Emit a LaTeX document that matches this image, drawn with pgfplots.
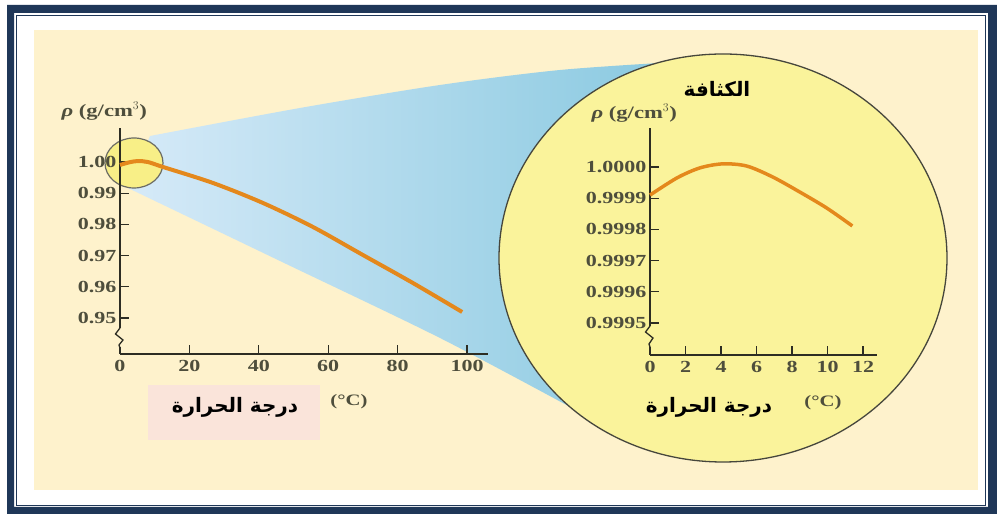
\documentclass[border=0pt]{standalone}
\usepackage{fontspec}
\usepackage{pgfplots}
\pgfplotsset{compat=1.18}
\TeXXeTstate=1
\newfontfamily\arabicfont[Script=Arabic]{DejaVu Sans}
\newfontfamily\tickfont[FakeStretch=1.3]{Liberation Serif}
\definecolor{navy}{RGB}{31,55,88}
\definecolor{cream}{RGB}{254,242,204}
\definecolor{pinkbox}{RGB}{250,228,218}
\definecolor{bluelight}{RGB}{214,234,248}
\definecolor{bluedark}{RGB}{130,198,222}
\definecolor{bigyellow}{RGB}{250,243,155}
\definecolor{smallyellow}{RGB}{248,239,135}
\definecolor{ringcol}{RGB}{70,70,60}
\definecolor{axiscol}{RGB}{45,45,35}
\definecolor{tickcol}{RGB}{78,78,60}
\definecolor{curvecol}{RGB}{228,136,28}
\begin{document}
\begin{tikzpicture}[x=1bp,y=1bp]
\useasboundingbox (0,0) rectangle (997,514);
\clip (0,0) rectangle (997,514);
% frame
\fill[white] (0,0) rectangle (997,514);
\fill[navy, even odd rule] (7,0) rectangle (997,509) (14,7) rectangle (988,501);
\draw[navy, line width=1.2bp] (16.5,8.5) rectangle (985.5,498.5);
\fill[cream] (34,24) rectangle (978,484);
% pink label box
\fill[pinkbox] (148,74) rectangle (320,129);
% blue cone
\shade[left color=bluelight, right color=bluedark]
  plot[smooth] coordinates {(150,378) (300,406) (440,429) (560,444) (676,452)}
  -- (723,256) -- (572,106)
  -- plot[smooth] coordinates {(572,106) (440,176) (280,253) (128,326)}
  -- cycle;
% magnifier ellipse
\draw[fill=bigyellow, draw=ringcol, line width=1.3bp] (723,256) ellipse [x radius=224, y radius=204];
% small circle
\draw[fill=smallyellow, draw=ringcol!80, line width=1.2bp] (134,351) ellipse [x radius=29, y radius=25];

\pgfplotsset{
  myax/.style={
    scale only axis, anchor=south west, clip=false,
    axis lines=left,
    axis line style={-, line width=1.3bp, draw=axiscol},
    tick align=inside, major tick length=9bp,
    tick style={line width=1.3bp, draw=axiscol},
    /pgf/number format/assume math mode=true,
    tick label style={font=\tickfont\bfseries\fontsize{17}{17}\selectfont, text=tickcol},
    xticklabel style={yshift=-3bp},
  }
}
% left (full range) axis
\begin{axis}[myax, at={(120bp,160bp)}, width=368bp, height=226bp,
  xmin=0, xmax=106.05, ymin=0.938462, ymax=1.010897,
  xtick={0,20,40,60,80,100}, xticklabels={0,20,40,60,80,100},
  ytick={0.95,0.96,0.97,0.98,0.99,1.00},
  yticklabels={0.95,0.96,0.97,0.98,0.99,1.00}]
\addplot[smooth, curvecol, line width=4bp] coordinates {
 (0,0.99904) (2.5,0.99985) (5.0,1.00030) (8.0,1.00000) (12.4,0.99840) (26.8,0.99327)
 (41.2,0.98686) (55.6,0.97917) (70.0,0.97019) (84.4,0.96122) (98.6,0.95192)};
\end{axis}
% right (zoomed) axis
\begin{axis}[myax, at={(650bp,159bp)}, width=227bp, height=227bp,
  xmin=0, xmax=12.789, ymin=0.9993974, ymax=1.000125,
  xtick={0,2,4,6,8,10,12}, xticklabels={0,2,4,6,8,10,12},
  ytick={0.9995,0.9996,0.9997,0.9998,0.9999,1.0000},
  yticklabels={0.9995,0.9996,0.9997,0.9998,0.9999,1.0000}]
\addplot[smooth, curvecol, line width=3.5bp] coordinates {
 (0,0.999910) (1.52,0.999965) (2.81,0.999997) (4.10,1.000010) (5.45,1.000003)
 (6.91,0.999968) (8.43,0.999920) (9.94,0.999869) (11.40,0.999811)};
\end{axis}
% axis breaks
\fill[cream] (116,167) rectangle (124,186);
\draw[axiscol, line width=1.3bp] (120,186) -- (115.5,180) -- (123,174) -- (119,169) -- (120,166);
\fill[bigyellow] (646,167) rectangle (654,188);
\draw[axiscol, line width=1.3bp] (650,188) -- (645.5,182) -- (653,176) -- (649,170) -- (650,167);
% labels
\node[anchor=west, text=tickcol, font=\tickfont\bfseries\fontsize{17.5}{17.5}\selectfont] at (58,403) {\textit{ρ} (g/cm$^{3}$)};
\node[anchor=west, text=tickcol, font=\tickfont\bfseries\fontsize{17.5}{17.5}\selectfont] at (588,401) {\textit{ρ} (g/cm$^{3}$)};
\node[text=tickcol, font=\tickfont\bfseries\fontsize{16}{16}\selectfont] at (349,112) {(°C)};
\node[text=tickcol, font=\tickfont\bfseries\fontsize{16}{16}\selectfont] at (823,111) {(°C)};
\node[text=black, font=\arabicfont\bfseries\fontsize{20}{20}\selectfont] at (235,107) {\beginR درجة الحرارة\endR};
\node[text=black, font=\arabicfont\bfseries\fontsize{20}{20}\selectfont] at (709,107) {\beginR درجة الحرارة\endR};
\node[text=black, font=\arabicfont\bfseries\fontsize{20}{20}\selectfont] at (717,425) {\beginR الكثافة\endR};
\end{tikzpicture}
\end{document}
